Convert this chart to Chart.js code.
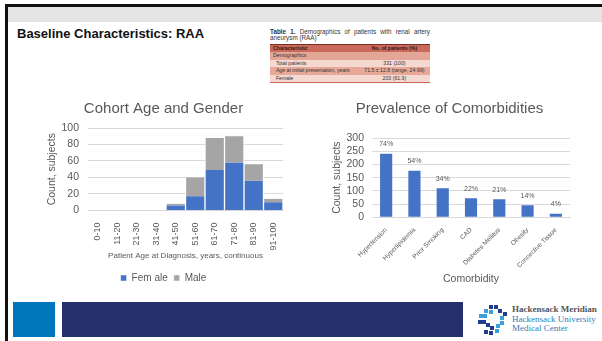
<!DOCTYPE html>
<html>
<head>
<meta charset="utf-8">
<script src="https://cdn.jsdelivr.net/npm/chart.js@4/dist/chart.umd.min.js"></script>
<style>
	html, body { margin: 0; padding: 0; background: #fff; }
	body { width: 602px; height: 341px; position: relative; overflow: hidden; font-family: "Liberation Sans", Arial, sans-serif; }
	.abs { position: absolute; }
	#topbar { left: 5px; top: 4px; width: 597px; height: 3px; background: #111; }
	#greyband { left: 7px; top: 7px; width: 595px; height: 15px; background: #e4e4e4; }
	#leftbar { left: 5px; top: 4px; width: 3px; height: 337px; background: #111; }
	#heading { left: 17px; top: 26px; font-weight: bold; font-size: 13px; color: #111; }
	#tbl { left: 270px; top: 29px; width: 160px; font-size: 5.2px; color: #333; }
	#tbl .cap { line-height: 6px; margin-bottom: 3px; text-align: justify; font-size: 6.3px; }
	#tbl table { border-collapse: collapse; width: 100%; }
	#tbl td { padding: 0 3px; height: 7.4px; line-height: 7.4px; white-space: nowrap; }
	#tbl tr.h td { background: #c96a5a; color: #3a1510; font-weight: bold; border-top: 1px solid #7a2f25; }
	#tbl tr.s td { background: #e4a696; }
	#tbl tr.a td { background: #f5d9d1; }
	#tbl tr.b td { background: #e8a999; }
	#tbl tr:last-child td { border-bottom: 1px solid #c96a5a; }
	#c1 { left: 40px; top: 95px; }
	#c2 { left: 322px; top: 95px; }
	#sq { left: 13px; top: 302px; width: 42px; height: 35px; background: #0077bd; }
	#navy { left: 62px; top: 302px; width: 401px; height: 35px; background: #252f6b; }
	#logo { left: 476px; top: 303px; }
	#logotext { left: 512px; top: 305px; font-family: "Liberation Serif", "DejaVu Serif", serif; font-size: 9px; line-height: 9.6px; }
	#logotext .g { color: #555; font-weight: bold; }
	#logotext .b { color: #2d7fc1; }
</style>
</head>
<body>
<div class="abs" id="greyband"></div>
<div class="abs" id="topbar"></div>
<div class="abs" id="leftbar"></div>
<div class="abs" id="heading">Baseline Characteristics: RAA</div>

<div class="abs" id="tbl">
	<div class="cap"><b>Table 1.</b> Demographics of patients with renal artery aneurysm (RAA)</div>
	<table>
		<tr class="h"><td>Characteristic</td><td style="text-align:center">No. of patients (%)</td></tr>
		<tr class="s"><td colspan="2">Demographics</td></tr>
		<tr class="a"><td>&nbsp;&nbsp;Total patients</td><td style="text-align:center">331 (100)</td></tr>
		<tr class="b"><td>&nbsp;&nbsp;Age at initial presentation, years</td><td style="text-align:center">71.5 ± 12.8 (range, 24-99)</td></tr>
		<tr class="a"><td>&nbsp;&nbsp;Female</td><td style="text-align:center">203 (61.9)</td></tr>
	</table>
</div>

<canvas class="abs" id="c1" width="256" height="200"></canvas>
<canvas class="abs" id="c2" width="270" height="200"></canvas>

<div class="abs" id="sq"></div>
<div class="abs" id="navy"></div>
<canvas class="abs" id="logo" width="32" height="34"></canvas>
<div class="abs" id="logotext">
	<div class="g">Hackensack Meridian</div>
	<div class="b">Hackensack University</div>
	<div class="b">Medical Center</div>
</div>

<script>
const ageGroups = ['0-10', '11-20', '21-30', '31-40', '41-50', '51-60', '61-70', '71-80', '81-90', '91-100'];
const femaleCounts = [0, 0, 0, 0, 6, 17, 49, 58, 36, 10];
const maleCounts = [0, 0, 0, 0, 2, 23, 39, 32, 20, 4];

const comorbidities = ['Hypertension', 'Hyperlipidemia', 'Prior Smoking', 'CAD', 'Diabetes Mellitus', 'Obesity', 'Connective Tissue'];
const comorbidityCounts = [240, 176, 110, 72, 68, 45, 13];
const comorbidityPct = ['74%', '54%', '34%', '22%', '21%', '14%', '4%'];

const grey = '#595959';
const gridColor = '#d9d9d9';
const font = 'Liberation Sans';

Chart.defaults.font.family = font;
Chart.defaults.color = grey;

// small labels above each bar
const pctLabels = {
	id: 'pctLabels',
	afterDatasetsDraw(chart) {
		const {ctx} = chart;
		const meta = chart.getDatasetMeta(0);
		ctx.save();
		ctx.font = '7px "' + font + '"';
		ctx.fillStyle = grey;
		ctx.textAlign = 'center';
		ctx.textBaseline = 'bottom';
		meta.data.forEach((bar, i) => {
			ctx.fillText(comorbidityPct[i], bar.x, bar.y - 6);
		});
		ctx.restore();
	},
};

new Chart(document.getElementById('c1'), {
	type: 'bar',
	data: {
		labels: ageGroups,
		datasets: [
			{label: 'Fem ale', data: femaleCounts, backgroundColor: '#4472c4', borderColor: '#fff', borderWidth: {left: 1, right: 1}, borderSkipped: false},
			{label: 'Male', data: maleCounts, backgroundColor: '#a5a5a5', borderColor: '#fff', borderWidth: {left: 1, right: 1}, borderSkipped: false},
		],
	},
	options: {
		responsive: false,
		animation: false,
		datasets: {bar: {categoryPercentage: 1, barPercentage: 1}},
		layout: {padding: {left: 4, right: 13, top: 0, bottom: 2}},
		plugins: {
			title: {display: true, text: 'Cohort Age and Gender', color: grey, font: {size: 15, weight: 'normal'}, padding: {top: 5, bottom: 10}},
			legend: {position: 'bottom', labels: {boxWidth: 6, boxHeight: 6, font: {size: 10}, padding: 6}},
			tooltip: {enabled: false},
		},
		scales: {
			x: {
				stacked: true,
				grid: {display: false},
				border: {color: gridColor},
				ticks: {maxRotation: 90, minRotation: 90, autoSkip: false, font: {size: 9}, padding: 4},
				title: {display: true, text: 'Patient Age at Diagnosis, years, continuous', font: {size: 8}, padding: {top: -3, bottom: 6}},
			},
			y: {
				stacked: true,
				min: 0, max: 100,
				afterFit(scale) { scale.width = 44; },
				ticks: {stepSize: 20, autoSkip: false, font: {size: 10.5}, padding: 9},
				grid: {color: gridColor, drawTicks: false},
				border: {display: false},
				title: {display: true, text: 'Count, subjects', font: {size: 10.5}, padding: 2},
			},
		},
	},
});

new Chart(document.getElementById('c2'), {
	type: 'bar',
	data: {
		labels: comorbidities,
		datasets: [
			{label: 'Count', data: comorbidityCounts, backgroundColor: '#4472c4', barPercentage: 0.43, categoryPercentage: 1},
		],
	},
	options: {
		responsive: false,
		animation: false,
		layout: {padding: {left: 7, right: 22, top: 0, bottom: 8}},
		plugins: {
			title: {display: true, text: 'Prevalence of Comorbidities', color: grey, font: {size: 15, weight: 'normal'}, padding: {top: 5, bottom: 20}},
			legend: {display: false},
			tooltip: {enabled: false},
		},
		scales: {
			x: {
				grid: {display: false},
				border: {color: gridColor},
				ticks: {maxRotation: 45, minRotation: 45, autoSkip: false, font: {size: 6.5}, padding: 1},
				title: {display: true, text: 'Comorbidity', font: {size: 10.5}, padding: {top: 2, bottom: 2}},
			},
			y: {
				min: 0, max: 300,
				afterFit(scale) { scale.width = 43; },
				ticks: {stepSize: 50, autoSkip: false, font: {size: 10.5}, padding: 8},
				grid: {color: gridColor, drawTicks: false},
				border: {display: false},
				title: {display: true, text: 'Count, subjects', font: {size: 10.5}, padding: 2},
			},
		},
	},
	plugins: [pctLabels],
});

// logo mark: ring of small squares
(function drawLogo() {
	const ctx = document.getElementById('logo').getContext('2d');
	const squares = [
		[13, 2, '#1f3e8f'], [18, 2, '#1f3e8f'], [8, 6, '#3aa0dc'], [13, 7, '#3aa0dc'], [22, 6, '#1f3e8f'], [27, 9, '#1f3e8f'],
		[3, 11, '#3aa0dc'], [7, 11, '#3aa0dc'], [24, 13, '#3aa0dc'], [2, 17, '#1f3e8f'], [6, 17, '#1f3e8f'], [24, 18, '#3aa0dc'],
		[10, 20, '#1f3e8f'], [20, 21, '#3aa0dc'], [14, 23, '#1f3e8f'], [8, 27, '#1f3e8f'], [13, 28, '#1f3e8f'], [19, 26, '#3aa0dc'],
	];
	squares.forEach(([x, y, c]) => {
		ctx.fillStyle = c;
		ctx.fillRect(x, y, 4, 4);
	});
})();
</script>
</body>
</html>
